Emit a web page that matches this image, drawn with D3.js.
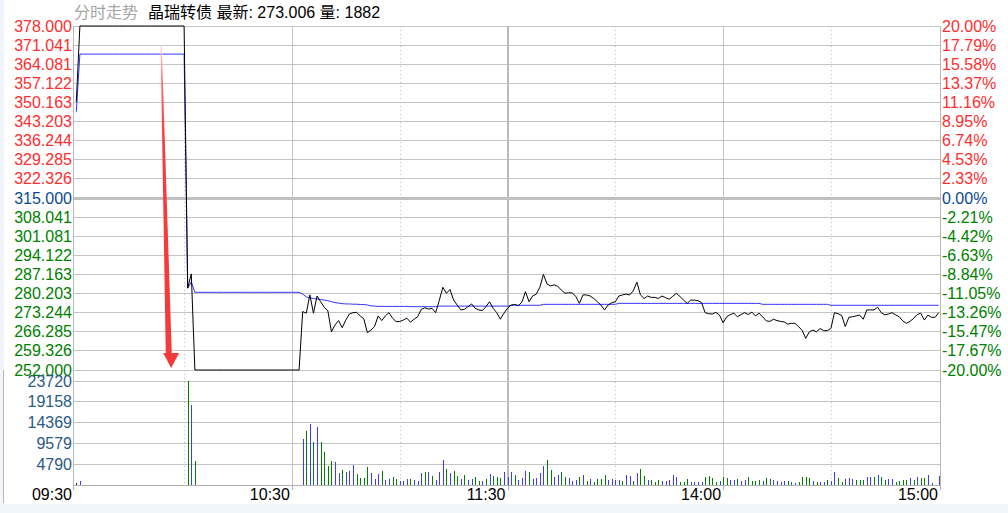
<!DOCTYPE html>
<html><head><meta charset="utf-8">
<script src="https://cdn.jsdelivr.net/npm/d3@7"></script>
<style>
html,body{margin:0;padding:0;background:#fff;}
svg{display:block;}
text{font-family:"Liberation Sans",Arial,"Noto Sans CJK SC",sans-serif;font-size:16px;}
</style></head><body><svg id="c" width="1008" height="513"></svg>
<script>
// ---------- data ----------
const priceTicks=[378.000,371.041,364.081,357.122,350.163,343.203,336.244,329.285,322.326,315.000,308.041,301.081,294.122,287.163,280.203,273.244,266.285,259.326,252.000];
const priceTickLabels=["378.000","371.041","364.081","357.122","350.163","343.203","336.244","329.285","322.326","315.000","308.041","301.081","294.122","287.163","280.203","273.244","266.285","259.326","252.000"];
const pctTickLabels=["20.00%","17.79%","15.58%","13.37%","11.16%","8.95%","6.74%","4.53%","2.33%","0.00%","-2.21%","-4.42%","-6.63%","-8.84%","-11.05%","-13.26%","-15.47%","-17.67%","-20.00%"];
const prevClose=315.000;
const volTicks=[4790,9579,14369,19158,23720];
const timeLabels=["09:30","10:30","11:30","14:00","15:00"];
const timeLabelIdx=[0,60,120,180,240];
const gridIdxSolid=[60,180];
const gridIdxThick=[120];
const gridIdxDotted=[30,90,150,210];
const titleGray="分时走势";
const titleMain="晶瑞转债 最新: 273.006 量: 1882";

const price=[
350.2,378,378,378,378,378,378,378,378,378,
378,378,378,378,378,378,378,378,378,378,
378,378,378,378,378,378,378,378,378,378,
378,282.0,287.2,252,252,252,252,252,252,252,
252,252,252,252,252,252,252,252,252,252,
252,252,252,252,252,252,252,252,252,252,
252,252,252,273.4,272.8,279.5,272.8,279.1,277.0,275.0,
273.7,266.0,268.5,270.1,267.5,270.3,272.5,273.0,273.1,271.8,
270.8,265.7,266.6,267.9,271.8,270.1,271.8,273.0,271.0,269.7,
269.8,270.3,271.0,269.5,270.6,271.5,274.2,274.8,274.3,274.6,
273.0,277.4,282.3,280.1,281.5,277.6,275.8,274.0,274.2,275.2,
276.2,274.6,274.0,273.8,275.2,277.0,274.6,273.0,270.6,272.8,
274.6,275.8,276.0,275.6,276.8,280.7,277.0,279.1,279.8,282.3,
287.0,283.5,282.8,283.2,282.6,281.3,280.1,280.3,280.2,279.0,
276.4,279.5,279.5,279.1,278.2,277.0,275.8,274.0,275.8,276.6,
277.0,279.1,279.5,279.8,279.5,281.0,284.2,279.5,278.2,279.1,
278.6,278.6,278.2,279.1,278.5,277.9,279.0,280.1,278.9,277.6,
276.4,277.6,277.6,277.4,276.7,273.0,272.6,272.5,273.1,272.1,
269.3,271.5,272.3,272.8,271.5,272.3,273.0,272.3,273.2,271.8,
272.8,271.5,270.0,269.8,270.6,270.1,269.8,269.6,268.8,269.1,
269.1,267.9,266.5,263.6,266.0,266.6,266.0,267.2,266.4,266.4,
267.2,273.0,272.6,272.0,267.9,271.3,271.5,271.8,272.1,270.6,
274.0,274.0,274.0,275.0,273.0,272.2,272.5,273.0,272.2,271.5,
270.0,269.1,269.8,270.9,272.3,272.8,270.3,272.1,271.3,271.3,
273.006];

const avgPrice=[
346.6,367.7,367.7,367.7,367.7,367.7,367.7,367.7,367.7,367.7,
367.7,367.7,367.7,367.7,367.7,367.7,367.7,367.7,367.7,367.7,
367.7,367.7,367.7,367.7,367.7,367.7,367.7,367.7,367.7,367.7,
367.7,282.0,284.2,280.45,280.45,280.45,280.45,280.45,280.45,280.45,
280.45,280.45,280.45,280.45,280.45,280.45,280.45,280.45,280.45,280.45,
280.45,280.45,280.45,280.45,280.45,280.45,280.45,280.45,280.45,280.45,
280.45,280.45,280.45,279.8,278.8,278.4,278.2,278.0,277.8,277.6,
277.4,277.0,276.7,276.5,276.3,276.2,276.2,276.1,276.1,276.0,
276.0,275.8,275.5,275.4,275.3,275.3,275.3,275.3,275.3,275.3,
275.3,275.3,275.3,275.2,275.2,275.2,275.2,275.2,275.2,275.2,
275.2,275.4,275.4,275.4,275.4,275.4,275.4,275.4,275.4,275.4,
275.4,275.4,275.4,275.4,275.4,275.4,275.4,275.4,275.4,275.4,
275.4,275.7,275.7,275.7,275.7,275.7,275.7,275.7,275.7,275.7,
276.05,276.05,276.05,276.05,276.05,276.05,276.05,276.05,276.05,276.05,
276.05,276.05,276.05,276.05,276.05,276.05,276.05,276.05,276.05,276.05,
276.05,276.4,276.4,276.4,276.4,276.4,276.4,276.4,276.4,276.4,
276.4,276.4,276.4,276.4,276.4,276.4,276.4,276.4,276.4,276.4,
276.4,276.4,276.4,276.4,276.4,276.4,276.4,276.4,276.4,276.4,
276.4,276.4,276.4,276.4,276.4,276.4,276.4,276.4,276.4,276.4,
276.4,276.05,276.05,276.05,276.05,276.05,276.05,276.05,276.05,276.05,
276.05,276.05,276.05,276.05,276.05,276.05,276.05,276.05,276.05,276.05,
275.7,275.7,275.7,275.7,275.7,275.7,275.7,275.7,275.7,275.7,
275.7,275.7,275.7,275.7,275.7,275.7,275.7,275.7,275.7,275.7,
275.7,275.7,275.7,275.7,275.7,275.7,275.7,275.7,275.7,275.7,
275.7];

const volume=[
460,900,0,0,0,0,0,0,0,0,
0,0,0,0,0,0,0,0,0,0,
0,0,0,0,0,0,0,0,0,0,
0,23720,18250,5600,0,0,0,0,0,0,
0,0,0,0,0,0,0,0,0,0,
0,0,0,0,0,0,0,0,0,0,
0,0,0,10600,12250,13860,9930,13170,9930,7620,
4390,5540,5310,2770,3470,3000,3230,4620,2540,1620,
1620,4160,2770,1390,2540,3230,1160,1390,1850,1390,
920,920,1390,1390,1160,920,2770,3000,3000,2080,
1160,3000,5780,3700,2770,3230,2080,1390,2310,1160,
1390,1850,920,920,1390,2540,2080,1850,1620,3000,
1850,3000,2310,1160,1620,3230,3000,1390,1620,2770,
4390,5780,3470,1850,2310,3000,1850,1620,920,1160,
1850,2310,920,1390,690,1390,1390,2310,1160,1390,
1160,1160,920,2310,2080,920,2770,3700,2080,1160,
1160,690,1160,920,920,1160,2310,1850,690,690,
1390,690,690,690,690,1850,2080,1620,690,920,
1850,1620,1160,1160,1390,920,1160,1850,920,920,
1160,920,1620,1390,1160,920,690,920,920,690,
460,690,1850,1850,1620,920,690,690,690,1160,
920,3000,1620,690,1390,1620,1390,1160,1160,1160,
1850,1850,1850,2310,1850,1160,1390,1390,690,920,
1160,1160,1620,1160,1850,1620,1620,2310,460,0,
2080];

// bar colour class per minute: k = flat/open, b = up, g = down, - = none
const volDir=(
"kb--------"+"----------"+"----------"+"-gbg------"+"----------"+"----------"+
"---bgbgbgg"+"ggbbgbbbgg"+"ggbbbgbbgg"+"bbbgbbbgbg"+"bbbgbggbgb"+"bggbgbgggb"+
"bbgbbbgbbb"+"bggbbggbbb"+"gbgbggggbb"+"bbgbbgbggb"+"gggbbbbbgg"+"gbbbbggggb"+
"ggbbgbbggg"+"gbggbbbbgb"+"bggggbgbbg"+"bbggbbbggg"+"bbgbggbbgg"+"ggbgbggbg-"+"b").split("");

// annotation arrow (minute index, price)
const arrowTop={m:23.6,p:371.0};
const arrowTip={m:26.4,p:252.7};

// ---------- drawing ----------
const svg=d3.select("#c");
const L=74,R=940,T=26,PB=370,VB=485;
const x=d3.scaleLinear().domain([-0.5,240.5]).range([74.5,940.5]);
const y=d3.scaleLinear().domain([252,378]).range([PB,T]);
const yv=d3.scaleLinear().domain([0,23720]).range([VB,381.3]);
const px=v=>Math.round(v)+0.5;

const RED="#ff2d2d",GREEN="#008000",NAVY="#0b4a8f",VOLC="#2c5a86",GRID="#c4c4c4";
const colFor=v=>v>prevClose+1e-6?RED:(v<prevClose-1e-6?GREEN:NAVY);

svg.append("rect").attr("width",1008).attr("height",513).attr("fill","#f1f6fc");
svg.append("rect").attr("x",4).attr("y",0).attr("width",1004).attr("height",504).attr("fill","#fff");
svg.append("line").attr("x1",3.5).attr("x2",3.5).attr("y1",370).attr("y2",503).attr("stroke","#b8b8b8");

const g=svg.append("g").attr("shape-rendering","crispEdges");
priceTicks.forEach(v=>{
  if(v===prevClose) return;
  g.append("line").attr("x1",L).attr("x2",R).attr("y1",px(y(v))).attr("y2",px(y(v))).attr("stroke",GRID);
});
gridIdxDotted.forEach(i=>{
  g.append("line").attr("x1",px(x(i))).attr("x2",px(x(i))).attr("y1",T).attr("y2",VB)
   .attr("stroke","#bdbdbd").attr("stroke-dasharray","1,3");
});
gridIdxSolid.forEach(i=>{
  g.append("line").attr("x1",px(x(i))).attr("x2",px(x(i))).attr("y1",T).attr("y2",VB).attr("stroke",GRID);
});
gridIdxThick.forEach(i=>{
  g.append("line").attr("x1",Math.round(x(i))).attr("x2",Math.round(x(i))).attr("y1",T).attr("y2",VB).attr("stroke","#bbbbbb").attr("stroke-width",2);
});
g.append("line").attr("x1",L).attr("x2",R).attr("y1",Math.round(y(prevClose))+0.5).attr("y2",Math.round(y(prevClose))+0.5)
 .attr("stroke","#c0c0c0").attr("stroke-width",3);
volTicks.forEach(v=>{
  g.append("line").attr("x1",L).attr("x2",R).attr("y1",px(yv(v))).attr("y2",px(yv(v))).attr("stroke",GRID);
});
g.append("line").attr("x1",L).attr("x2",R).attr("y1",VB+0.5).attr("y2",VB+0.5).attr("stroke","#b0b0b0").attr("stroke-width",1.5);
g.append("line").attr("x1",L-0.5).attr("x2",L-0.5).attr("y1",T).attr("y2",VB+1).attr("stroke","#b8b8b8");
g.append("line").attr("x1",R+0.5).attr("x2",R+0.5).attr("y1",T).attr("y2",VB+1).attr("stroke","#b8b8b8");
timeLabelIdx.forEach((i,k)=>{
  const xx = k===0?L-0.5:(k===timeLabelIdx.length-1?R+0.5:px(x(i)));
  g.append("line").attr("x1",xx).attr("x2",xx).attr("y1",VB).attr("y2",VB+5).attr("stroke","#b0b0b0");
});

// volume bars
const vcol={k:"#222",b:"#3c3cff",g:"#008000"};
const volData=volume.map((v,i)=>({i,v,d:volDir[i]})).filter(o=>o.v>0);
svg.append("g").attr("shape-rendering","crispEdges").selectAll("line").data(volData).join("line")
  .attr("x1",o=>px(x(o.i))).attr("x2",o=>px(x(o.i)))
  .attr("y1",VB).attr("y2",o=>yv(o.v))
  .attr("stroke",o=>vcol[o.d]||"#3c3cff").attr("stroke-width",1);

// avg line and price line
svg.append("path").datum(avgPrice).attr("fill","none").attr("stroke","#3232ff").attr("stroke-width",1)
  .attr("d",d3.line().x((d,i)=>x(i)).y(d=>y(d)));
svg.append("path").datum(price).attr("fill","none").attr("stroke","#000").attr("stroke-width",1)
  .attr("d",d3.line().x((d,i)=>x(i)).y(d=>y(d)));

// arrow annotation
const defs=svg.append("defs");
const grad=defs.append("linearGradient").attr("id","ag").attr("x1",0).attr("y1",0).attr("x2",0).attr("y2",1);
grad.append("stop").attr("offset","0").attr("stop-color","#ffd6d6");
grad.append("stop").attr("offset","0.12").attr("stop-color","#ff6a6a");
grad.append("stop").attr("offset","0.3").attr("stop-color","#f73c3c");
grad.append("stop").attr("offset","1").attr("stop-color","#f43a3a");
const ax0=x(arrowTop.m),ay0=y(arrowTop.p),ax1=x(arrowTip.m),ay1=y(arrowTip.p);
const headH=15,headW=8;
const hb=ay1-headH;
const arrowPts=[[ax0-0.5,ay0],[ax0+0.6,ay0],[ax1+0.6,hb],[ax1+headW,hb],[ax1,ay1],[ax1-headW,hb],[ax1-5.4,hb]];
svg.append("path").attr("d","M"+arrowPts.map(p=>p.join(",")).join("L")+"Z").attr("fill","url(#ag)");

// axis labels
const tg=svg.append("g");
priceTicks.forEach((v,k)=>{
  tg.append("text").attr("x",72).attr("y",y(v)).attr("dy","0.36em").attr("text-anchor","end")
    .attr("fill",colFor(v)).text(priceTickLabels[k]);
  tg.append("text").attr("x",942).attr("y",y(v)).attr("dy","0.36em").attr("text-anchor","start")
    .attr("fill",colFor(v)).text(pctTickLabels[k]);
});
volTicks.forEach(v=>{
  tg.append("text").attr("x",72).attr("y",yv(v)).attr("dy","0.36em").attr("text-anchor","end")
    .attr("fill",VOLC).text(v);
});
timeLabelIdx.forEach((i,k)=>{
  const xx = k===0?L-2:(k===timeLabelIdx.length-1?R-2:x(i)-2);
  tg.append("text").attr("x",xx).attr("y",500).attr("text-anchor","end").attr("fill","#000").text(timeLabels[k]);
});
tg.append("text").attr("x",74).attr("y",18).attr("fill","#a6a6a6").style("font-family","'Noto Sans CJK SC',sans-serif").text(titleGray);
tg.append("text").attr("x",148).attr("y",18).attr("fill","#000").text(titleMain);
</script></body></html>
